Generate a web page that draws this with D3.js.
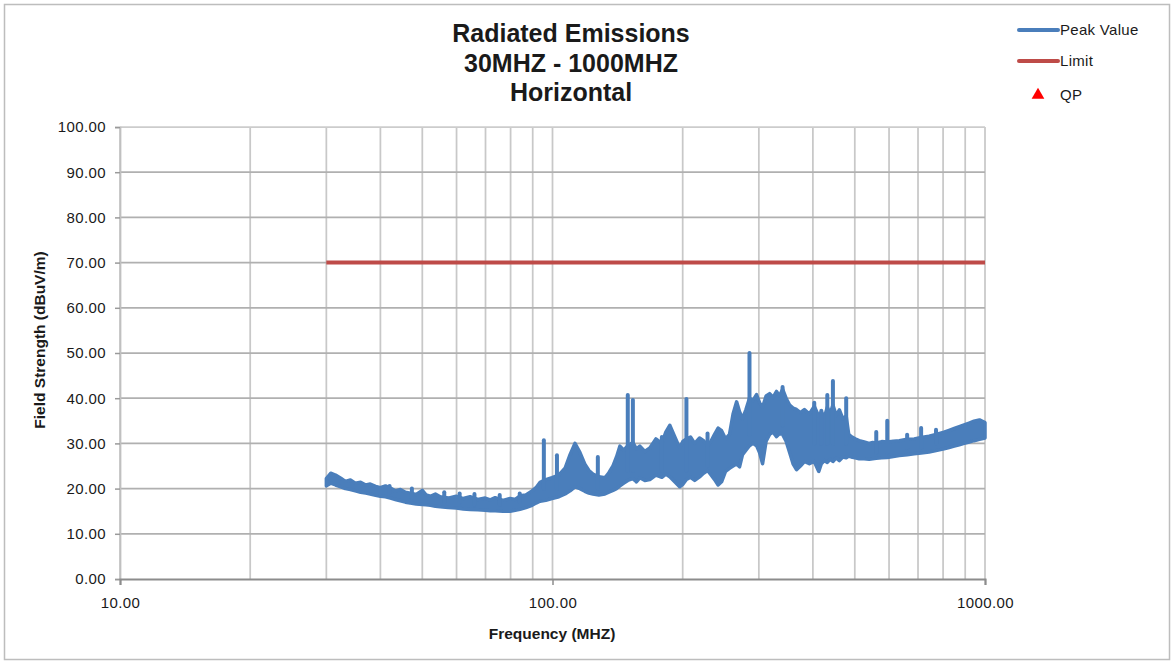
<!DOCTYPE html>
<html>
<head>
<meta charset="utf-8">
<script src="https://cdn.jsdelivr.net/npm/d3@7"></script>
<style>
  body { margin: 0; background: #fff; }
  svg text { font-family: "Liberation Sans", Arial, sans-serif; fill: #1a1a1a; }
</style>
</head>
<body>
<svg id="chart" width="1172" height="662"></svg>
<script>
// peak trace (low / high edge of the dense trace)
const freq = [30.0, 30.7, 31.5, 32.4, 33.2, 34.1, 35.0, 36.0, 37.0, 37.9, 39.0, 40.0, 41.1, 42.2, 43.3, 44.5, 45.7, 46.9, 48.4, 50.0,
  51.0, 52.2, 53.6, 55.0, 57.4, 59.9, 62.2, 64.5, 67.2, 69.9, 71.8, 73.7, 76.8, 79.8, 82.0, 84.1, 86.8, 89.7, 91.6, 93.6,
  96.5, 99.7, 103.5, 106.9, 109.8, 112.7, 115.7, 118.8, 121.4, 124.0, 128.0, 132.2, 135.0, 138.0, 140.6, 143.2, 146.2, 149.3, 153.4, 156.3,
  159.2, 163.5, 167.9, 173.4, 179.0, 182.8, 186.7, 191.7, 196.8, 200.4, 204.0, 208.5, 213.2, 218.8, 223.5, 228.3, 232.6, 237.0, 241.5, 246.0,
  251.2, 256.6, 261.5, 266.5, 270.7, 275.0, 280.1, 285.4, 290.8, 296.3, 301.1, 306.0, 311.8, 317.7, 323.6, 329.6, 334.9, 340.4, 346.8, 353.4,
  359.9, 366.6, 374.3, 382.3, 392.5, 402.9, 412.7, 418.4, 425.1, 431.9, 438.4, 445.0, 452.7, 460.6, 469.0, 477.6, 484.0, 490.5, 501.0, 511.8,
  525.5, 539.6, 549.9, 560.5, 577.2, 594.3, 613.7, 633.7, 660.7, 686.0, 711.7, 742.5, 770.5, 804.0, 826.0, 849.0, 872.0, 895.0, 919.0, 943.0,
  971.0, 1000.0];
const peakLow = [20.6, 21.2, 20.8, 20.4, 20.0, 19.8, 19.5, 19.2, 19.0, 18.8, 18.5, 18.3, 18.2, 17.9, 17.6, 17.3, 17.0, 16.8, 16.6, 16.5,
  16.4, 16.3, 16.1, 16.0, 15.8, 15.7, 15.5, 15.4, 15.3, 15.2, 15.1, 15.1, 15.0, 15.0, 15.2, 15.4, 15.8, 16.3, 16.8, 17.2,
  17.4, 17.8, 18.2, 18.8, 19.5, 20.4, 20.0, 19.4, 19.0, 18.8, 18.6, 18.8, 19.2, 19.6, 20.0, 20.6, 21.2, 21.8, 22.2, 21.5,
  22.4, 21.8, 22.0, 23.0, 22.5, 23.2, 22.6, 21.5, 20.4, 21.0, 22.0, 22.5, 21.8, 22.6, 23.4, 24.0, 23.0, 22.0, 20.8, 21.5,
  23.8, 24.5, 25.0, 25.5, 24.8, 27.5, 28.5, 29.5, 30.0, 29.5, 28.0, 25.5, 30.5, 32.0, 32.5, 31.5, 32.2, 32.0, 30.5, 28.0,
  25.5, 24.2, 25.0, 26.0, 25.5, 26.0, 23.8, 25.5, 26.2, 25.8, 26.5, 26.0, 26.8, 26.2, 27.0, 26.8, 27.2, 27.0, 26.8, 26.6,
  26.6, 26.5, 26.6, 26.7, 26.8, 26.9, 27.1, 27.3, 27.5, 27.7, 27.9, 28.1, 28.4, 28.8, 29.1, 29.4, 29.7, 30.0, 30.3, 30.6,
  30.9, 31.2];
const peakHigh = [22.2, 23.4, 23.0, 22.3, 21.6, 21.9, 21.2, 21.4, 20.8, 21.0, 20.5, 20.2, 20.6, 20.1, 19.5, 19.8, 19.2, 19.0, 18.7, 19.6,
  18.6, 18.3, 18.8, 18.2, 17.9, 18.3, 17.8, 18.2, 17.6, 17.9, 17.5, 18.0, 17.4, 17.8, 17.6, 18.4, 18.6, 19.5, 20.2, 21.4,
  22.0, 22.4, 23.0, 24.5, 27.5, 30.0, 28.0, 25.4, 24.0, 23.2, 22.6, 22.4, 23.5, 25.0, 27.0, 29.4, 28.5, 29.5, 30.2, 28.8,
  29.4, 28.2, 29.0, 31.0, 30.0, 32.5, 34.0, 31.5, 29.0, 30.5, 31.0, 31.4, 30.0, 31.2, 30.6, 29.5, 30.5, 32.0, 33.4, 32.8,
  31.0, 32.0, 36.5, 39.2, 37.0, 35.5, 37.5, 40.0, 39.5, 40.8, 39.0, 38.0, 40.5, 41.0, 40.2, 41.5, 40.5, 42.0, 40.0, 38.5,
  37.8, 37.5, 36.8, 37.5, 36.5, 38.2, 36.0, 37.0, 35.8, 38.0, 36.5, 38.5, 36.2, 37.4, 35.5, 36.0, 32.0, 31.5, 31.0, 30.6,
  30.3, 30.0, 30.2, 30.1, 30.4, 30.3, 30.5, 30.6, 30.9, 31.0, 31.3, 31.6, 32.0, 32.5, 32.9, 33.3, 33.7, 34.1, 34.5, 34.9,
  35.2, 34.6];

// narrow peaks standing out of the trace
const spikeFreq = [42.0, 47.3, 56.2, 61.0, 66.0, 75.5, 84.0, 95.5, 102.4, 127.3, 149.3, 153.4, 179.0, 204.0, 228.3, 285.4, 340.4, 402.9, 418.4, 431.9,
  445.0, 477.6, 560.5, 594.3, 660.7, 711.7, 770.5];
const spikeBase = [19, 18, 17, 17, 16.5, 16.5, 17, 20, 20, 20, 24, 24, 24, 24, 25, 32, 34, 30, 30, 30,
  30, 30, 28, 28, 29, 29, 30];
const spikeTop  = [20.6, 20.0, 19.2, 18.9, 18.8, 18.6, 18.9, 30.7, 27.4, 27.0, 40.7, 39.6, 31.4, 39.8, 32.2, 50.0, 42.5, 39.0, 37.2, 40.7,
  43.8, 40.0, 32.5, 35.0, 31.9, 33.4, 33.0];

const limitFreq = [30, 1000];
const limitValue = [70, 70];

const yTicks = [0, 10, 20, 30, 40, 50, 60, 70, 80, 90, 100];
const xGrid = [10, 20, 30, 40, 50, 60, 70, 80, 90, 100, 200, 300, 400, 500, 600, 700, 800, 900, 1000];
const xLabels = [10, 100, 1000];

const titleLines = ["Radiated Emissions", "30MHZ - 1000MHZ", "Horizontal"];
const legendNames = ["Peak Value", "Limit", "QP"];

const blue = "#4a7ebb", red = "#be4b48";

const svg = d3.select("#chart");

// outer frame
svg.append("rect")
    .attr("x", 4.5).attr("y", 4.5)
    .attr("width", 1165).attr("height", 655)
    .attr("fill", "none")
    .attr("stroke", "#bdbdbd")
    .attr("stroke-width", 1.5);

const x = d3.scaleLog().domain([10, 1000]).range([120, 985]);
const y = d3.scaleLinear().domain([0, 100]).range([579, 127]);

// gridlines
svg.append("g")
    .selectAll("line")
    .data(xGrid)
    .enter().append("line")
    .attr("x1", d => x(d)).attr("x2", d => x(d))
    .attr("y1", y(100)).attr("y2", y(0))
    .attr("stroke", "#c8c8c8")
    .attr("stroke-width", 1.75);

svg.append("g")
    .selectAll("line")
    .data(yTicks.slice(1))
    .enter().append("line")
    .attr("x1", x(10)).attr("x2", x(1000))
    .attr("y1", d => y(d)).attr("y2", d => y(d))
    .attr("stroke", d => d === 100 ? "#cccccc" : "#b0b0b0")
    .attr("stroke-width", 1.75);

// axes
const yAxis = svg.append("g")
    .attr("transform", `translate(${x(10)},0)`)
    .call(d3.axisLeft(y).tickValues(yTicks).tickSize(5).tickPadding(9).tickFormat(d => d.toFixed(2)));
yAxis.select(".domain").attr("stroke", "#c0c0c0").attr("stroke-width", 1.75);
yAxis.selectAll(".tick line").attr("stroke", "#9a9a9a").attr("stroke-width", 1.5);
yAxis.selectAll(".tick text")
    .style("font-family", "'Liberation Sans', Arial, sans-serif")
    .style("font-size", "15px")
    .style("letter-spacing", "0.4px")
    .attr("fill", "#262626");

const xAxis = svg.append("g")
    .attr("transform", `translate(0,${y(0)})`)
    .call(d3.axisBottom(x).tickValues(xLabels).tickSize(6).tickPadding(12).tickFormat(d => d.toFixed(2)));
xAxis.select(".domain").attr("stroke", "#8c8c8c").attr("stroke-width", 2);
xAxis.selectAll(".tick line").attr("stroke", "#8c8c8c").attr("stroke-width", 1.5);
xAxis.selectAll(".tick text")
    .style("font-family", "'Liberation Sans', Arial, sans-serif")
    .style("font-size", "15px")
    .style("letter-spacing", "0.4px")
    .attr("fill", "#262626");

// limit line
const limitData = limitFreq.map((f, i) => ({ f: f, v: limitValue[i] }));
svg.append("path")
    .datum(limitData)
    .attr("d", d3.line().x(d => x(d.f)).y(d => y(d.v)))
    .attr("fill", "none")
    .attr("stroke", red)
    .attr("stroke-width", 4);

// peak trace band
const band = freq.map((f, i) => ({ f: f, lo: peakLow[i], hi: peakHigh[i] }));
svg.append("path")
    .datum(band)
    .attr("d", d3.area().x(d => x(d.f)).y0(d => y(d.lo)).y1(d => y(d.hi)))
    .attr("fill", blue)
    .attr("stroke", blue)
    .attr("stroke-width", 3.5)
    .attr("stroke-linejoin", "round");

svg.append("g")
    .selectAll("line")
    .data(spikeFreq.map((f, i) => ({ f: f, b: spikeBase[i], t: spikeTop[i] })))
    .enter().append("line")
    .attr("x1", d => x(d.f)).attr("x2", d => x(d.f))
    .attr("y1", d => y(d.b)).attr("y2", d => y(d.t))
    .attr("stroke", blue)
    .attr("stroke-width", 4)
    .attr("stroke-linecap", "round");

// title
svg.append("g")
    .selectAll("text")
    .data(titleLines)
    .enter().append("text")
    .attr("x", 571)
    .attr("y", (d, i) => 42 + i * 29.5)
    .attr("text-anchor", "middle")
    .style("font-size", "25px")
    .style("font-weight", "bold")
    .text(d => d);

// axis titles
svg.append("text")
    .attr("x", 552).attr("y", 639)
    .attr("text-anchor", "middle")
    .style("font-size", "15.5px")
    .style("font-weight", "bold")
    .text("Frequency (MHZ)");

svg.append("text")
    .attr("transform", "translate(45,340) rotate(-90)")
    .attr("text-anchor", "middle")
    .style("font-size", "15.5px")
    .style("font-weight", "bold")
    .text("Field Strength (dBuV/m)");

// legend
const legend = svg.append("g");
const legendY = [30, 61, 95];
legend.append("line")
    .attr("x1", 1019).attr("x2", 1058).attr("y1", legendY[0]).attr("y2", legendY[0])
    .attr("stroke", blue).attr("stroke-width", 4).attr("stroke-linecap", "round");
legend.append("line")
    .attr("x1", 1019).attr("x2", 1058).attr("y1", legendY[1]).attr("y2", legendY[1])
    .attr("stroke", red).attr("stroke-width", 4).attr("stroke-linecap", "round");
legend.append("path")
    .attr("d", d3.symbol().type(d3.symbolTriangle).size(70))
    .attr("transform", `translate(1038,${legendY[2]})`)
    .attr("fill", "#ff0000");
legend.selectAll("text")
    .data(legendNames)
    .enter().append("text")
    .attr("x", 1060)
    .attr("y", (d, i) => legendY[i] + 5)
    .style("font-size", "15px")
    .style("letter-spacing", "0.3px")
    .text(d => d);
</script>
</body>
</html>
